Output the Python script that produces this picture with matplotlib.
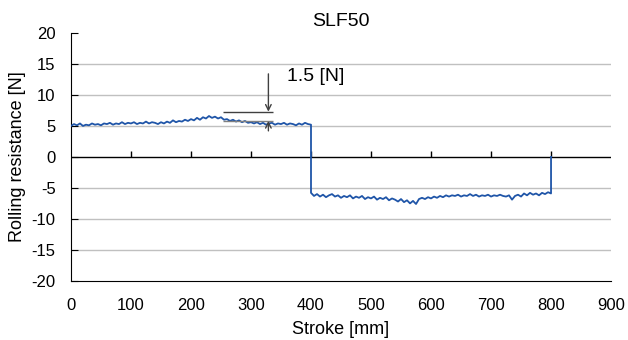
import numpy as np
import matplotlib
matplotlib.use("Agg")
import matplotlib.pyplot as plt

plt.rcParams["font.family"] = ["Liberation Sans", "DejaVu Sans"]
plt.rcParams["axes.unicode_minus"] = False

# forward stroke, 0..400 mm every 5 mm  [N]
fwd_x = np.arange(0, 405, 5)
fwd_y = [5.0, 5.3, 5.1, 5.4, 5.0, 5.2, 5.1, 5.4, 5.2, 5.3,
         5.1, 5.4, 5.3, 5.5, 5.2, 5.4, 5.3, 5.6, 5.3, 5.5,
         5.4, 5.6, 5.3, 5.5, 5.4, 5.7, 5.4, 5.6, 5.5, 5.3,
         5.6, 5.4, 5.7, 5.5, 5.9, 5.6, 5.8, 5.7, 6.0, 5.8,
         6.1, 5.9, 6.3, 6.0, 6.4, 6.2, 6.6, 6.3, 6.5, 6.2,
         6.4, 6.0, 6.1, 5.8, 6.0, 5.7, 5.9, 5.6, 5.8, 5.5,
         5.6, 5.4, 5.6, 5.3, 5.5, 5.2, 5.4, 5.5, 5.2, 5.4,
         5.3, 5.5, 5.2, 5.4, 5.3, 5.1, 5.4, 5.2, 5.5, 5.3,
         5.2]

# return stroke, 400..795 mm every 5 mm, then drop back to zero at 800
ret_x = np.arange(400, 800, 5)
ret_y = [-5.8, -6.3, -6.0, -6.4, -6.1, -6.5, -6.2, -6.0, -6.4, -6.2,
         -6.6, -6.3, -6.5, -6.2, -6.7, -6.4, -6.6, -6.3, -6.8, -6.5,
         -6.7, -6.4, -6.9, -6.6, -6.8, -6.5, -7.0, -6.7, -6.9, -7.2,
         -6.8, -7.3, -7.0, -7.5, -7.1, -7.6, -6.8, -6.6, -6.8, -6.5,
         -6.7, -6.4, -6.6, -6.3, -6.5, -6.2, -6.4, -6.2, -6.3, -6.1,
         -6.4, -6.2, -6.3, -6.0, -6.3, -6.1, -6.4, -6.2, -6.3, -6.1,
         -6.4, -6.2, -6.3, -6.1, -6.3, -6.4, -6.2, -6.9, -6.3, -6.1,
         -6.4, -5.9, -6.2, -5.8, -6.1, -5.9, -6.2, -5.8, -6.0, -5.7]
end_x = [800, 800]
end_y = [-5.9, 0.0]

# 1.5 N band marked on the forward stroke
band_x = [253, 336]
band_hi = 7.3
band_lo = 5.8
arrow_x = 329

x = np.concatenate([fwd_x, ret_x, end_x])
y = np.concatenate([fwd_y, ret_y, end_y])

fig = plt.figure(figsize=(6.28, 3.4), dpi=100)
ax = fig.add_axes([0.113, 0.174, 0.86, 0.729])

for gy in [-15, -10, -5, 5, 10, 15]:
    ax.axhline(gy, color="#c0c0c0", lw=1, zorder=1)
ax.axhline(0, color="black", lw=1, zorder=2)
xt = np.arange(100, 900, 100)
ax.vlines(xt, 0, 1.0, color="black", lw=1, zorder=2)

ax.plot(x, y, color="#1f55a8", lw=1.3, zorder=3)

# annotation
ax.hlines(band_hi, *band_x, color="#404040", lw=1, zorder=4)
ax.hlines(band_lo, *band_x, color="#808080", lw=1, zorder=4)
ax.annotate("", xy=(arrow_x, band_hi), xytext=(arrow_x, 13.4),
            arrowprops=dict(arrowstyle="->", color="#404040", lw=1,
                            shrinkA=0, shrinkB=0), zorder=5)
ax.annotate("", xy=(arrow_x, band_lo), xytext=(arrow_x, 4.2),
            arrowprops=dict(arrowstyle="->", color="#404040", lw=1,
                            shrinkA=0, shrinkB=0), zorder=5)
ax.text(360, 12.9, "1.5 [N]", fontsize=14, va="center", ha="left")

ax.set_xlim(0, 900)
ax.set_ylim(-20, 20)
ax.set_xticks(np.arange(0, 1000, 100))
ax.set_yticks(np.arange(-20, 25, 5))
ax.tick_params(axis="x", length=0, pad=12, labelsize=12)
ax.tick_params(axis="y", direction="in", length=5, pad=11, labelsize=12)
for s in ["top", "right"]:
    ax.spines[s].set_visible(False)
ax.set_xlabel("Stroke [mm]", fontsize=13, labelpad=6)
ax.set_ylabel("Rolling resistance [N]", fontsize=13, labelpad=4)
ax.set_title("SLF50", fontsize=14, pad=5)

fig.savefig("out.png", dpi=100)
